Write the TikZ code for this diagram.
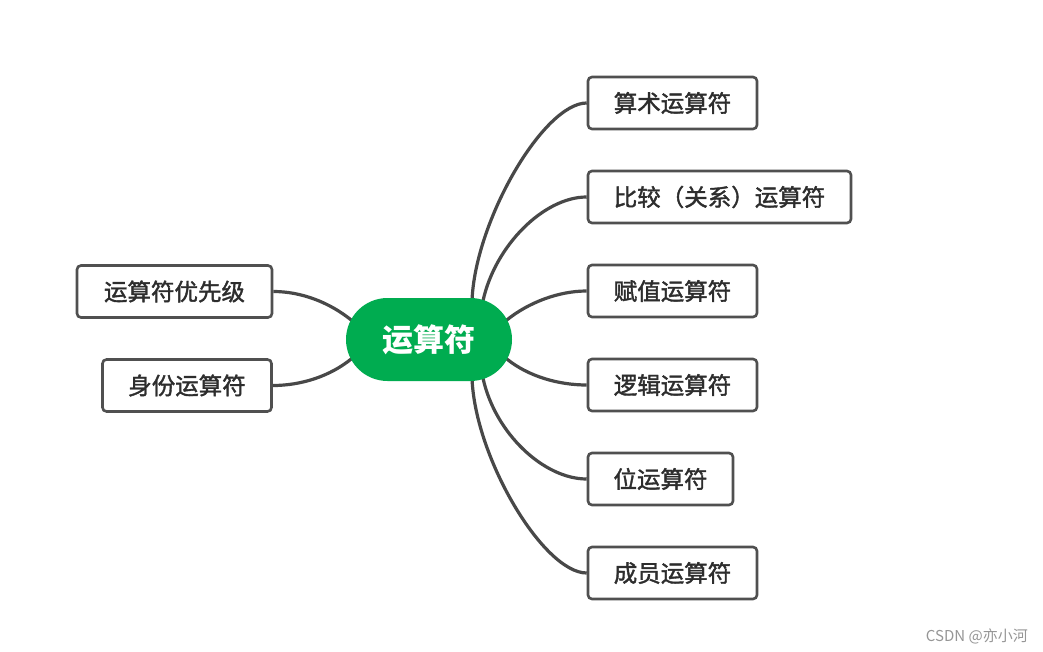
\documentclass[tikz,border=0pt]{standalone}
\usepackage{fontspec}
\setmainfont{Noto Sans CJK SC}
\newfontfamily\boxfont[FakeBold=1.6]{Noto Sans CJK SC}
\usetikzlibrary{shapes.misc,calc}
\definecolor{pillgreen}{RGB}{0,172,80}
\definecolor{lineg}{RGB}{72,72,72}
\definecolor{boxg}{RGB}{80,80,80}
\definecolor{txt}{RGB}{45,45,45}
\definecolor{wmgray}{RGB}{150,150,150}
\pgfdeclarelayer{bg}
\pgfsetlayers{bg,main}
\begin{document}
\begin{tikzpicture}[x=1pt,y=-1pt,
  topic/.style={draw=boxg, line width=2.6pt, rounded corners=4pt, minimum height=52pt, inner sep=0pt, fill=white, text=txt, font=\boxfont\fontsize{23.5}{27}\selectfont},
  link/.style={draw=lineg, line width=3.2pt}]
\begin{pgfonlayer}{bg}
\fill[white] (0,0) rectangle (1043,652);
\end{pgfonlayer}
\useasboundingbox (0,0) rectangle (1043,652);

\node[rounded rectangle, fill=pillgreen, minimum width=166pt, minimum height=83pt, inner sep=0pt, text=white, font=\bfseries\fontsize{31}{34}\selectfont] (c) at (429,339.5) {运算符};

\node[topic, minimum width=169pt] (a1) at (672.5,103) {算术运算符};
\node[topic, minimum width=263pt] (a2) at (719.5,197) {比较（关系）运算符};
\node[topic, minimum width=169pt] (a3) at (672.5,291) {赋值运算符};
\node[topic, minimum width=169pt] (a4) at (672.5,385) {逻辑运算符};
\node[topic, minimum width=145pt] (a5) at (660.5,479) {位运算符};
\node[topic, minimum width=169pt] (a6) at (672.5,573) {成员运算符};
\node[topic, minimum width=195pt] (l1) at (174.5,291.5) {运算符优先级};
\node[topic, minimum width=169pt] (l2) at (187,385.5) {身份运算符};

\node[text=wmgray, font=\fontsize{15}{17}\selectfont, anchor=east, inner sep=0pt] (wm) at (1028,636) {CSDN @亦小河};

\begin{pgfonlayer}{bg}
\draw[link] ($(c.north)+(43,3)$) .. controls +(3,-80) and +(-43,0) .. (a1.west);
\draw[link] ($(c.north)+(54,3)$) .. controls +(12,-55) and +(-43,0) .. (a2.west);
\draw[link] ($(c.east)+(-6,-19)$) .. controls +(22,-18) and +(-28,0) .. (a3.west);
\draw[link] ($(c.east)+(-6,19)$) .. controls +(22,18) and +(-28,0) .. (a4.west);
\draw[link] ($(c.south)+(54,-3)$) .. controls +(12,55) and +(-43,0) .. (a5.west);
\draw[link] ($(c.south)+(43,-3)$) .. controls +(3,80) and +(-43,0) .. (a6.west);
\draw[link] ($(c.west)+(6,-19)$) .. controls +(-22,-18) and +(28,0) .. (l1.east);
\draw[link] ($(c.west)+(6,19)$) .. controls +(-22,18) and +(28,0) .. (l2.east);
\end{pgfonlayer}
\end{tikzpicture}
\end{document}
